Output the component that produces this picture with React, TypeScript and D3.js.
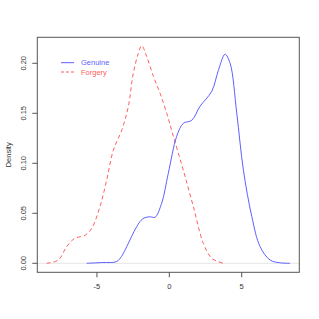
import React from "react";
import * as d3 from "d3";

const genuineX = [-5.71, -4.6, -3.64, -3.3, -2.94, -2.6, -2.25, -1.95, -1.68, -1.3, -0.99, -0.53, -0.07, 0.51, 0.97, 1.55, 2.12, 2.93, 3.39, 3.85, 4.2, 4.66, 5.12, 5.7, 6.27, 6.96, 7.6, 8.34];
const genuineY = [0.0, 0.0008, 0.0017, 0.007, 0.0167, 0.027, 0.0367, 0.043, 0.0457, 0.0465, 0.046, 0.06, 0.09, 0.127, 0.14, 0.143, 0.157, 0.172, 0.193, 0.209, 0.2, 0.15, 0.093, 0.0467, 0.0167, 0.0033, 0.0006, 0.0];

const forgeryX = [-8.47, -7.67, -7.09, -6.52, -5.82, -5.36, -4.79, -4.33, -3.87, -3.29, -2.83, -2.49, -2.14, -1.91, -1.56, -1.1, -0.64, -0.18, 0.28, 0.97, 1.66, 2.35, 2.93, 3.73];
const forgeryY = [0.0, 0.0033, 0.0167, 0.025, 0.028, 0.035, 0.0567, 0.083, 0.113, 0.133, 0.157, 0.19, 0.21, 0.2177, 0.2067, 0.187, 0.17, 0.15, 0.127, 0.093, 0.0567, 0.02, 0.005, 0.0];

const xTicks = [-5, 0, 5];
const yTicks = [0, 0.05, 0.1, 0.15, 0.2];
const seriesNames = ["Genuine", "Forgery"];
const seriesColors = ["#5f5fff", "#ff5f5f"];

export default function App() {
  const W = 319, H = 319;
  const left = 37.3, right = 299.3, top = 37.3, bottom = 272.3;
  const x = d3.scaleLinear().domain([-9.12, 8.98]).range([left, right]);
  const y = d3.scaleLinear().domain([-0.009, 0.226]).range([bottom, top]);
  const line = d3.line<[number, number]>().x(d => x(d[0])).y(d => y(d[1])).curve(d3.curveCatmullRom.alpha(0.5));
  const g = genuineX.map((v, i) => [v, genuineY[i]] as [number, number]);
  const f = forgeryX.map((v, i) => [v, forgeryY[i]] as [number, number]);
  const font = "Liberation Sans, Arial, Helvetica, sans-serif";
  return (
    <svg width={W} height={H} style={{ position: "absolute", left: 0, top: 0 }} fontFamily={font}>
      <rect x={0} y={0} width={W} height={H} fill="#fff" />
      <line x1={x(-9.12)} x2={x(8.98)} y1={y(0)} y2={y(0)} stroke="#e6e6e6" strokeWidth={1} />
      <path d={line(f) || ""} fill="none" stroke={seriesColors[1]} strokeWidth={1} strokeDasharray="4,3" />
      <path d={line(g) || ""} fill="none" stroke={seriesColors[0]} strokeWidth={1} />
      <rect x={left} y={top} width={right - left} height={bottom - top} fill="none" stroke="#555" strokeWidth={1} />
      {xTicks.map(t => (
        <g key={t}>
          <line x1={x(t)} x2={x(t)} y1={bottom} y2={bottom + 5} stroke="#555" />
          <text x={x(t)} y={289} fontSize={7.5} textAnchor="middle" fill="#333">{t}</text>
        </g>
      ))}
      {yTicks.map(t => (
        <g key={t}>
          <line x1={left - 5} x2={left} y1={y(t)} y2={y(t)} stroke="#555" />
          <text transform={`translate(26,${y(t)}) rotate(-90)`} fontSize={7.5} textAnchor="middle" fill="#333">{t.toFixed(2)}</text>
        </g>
      ))}
      <text transform={`translate(10.5,${(top + bottom) / 2}) rotate(-90)`} fontSize={7.5} textAnchor="middle" fill="#333">Density</text>
      {seriesNames.map((n, i) => (
        <g key={n}>
          <line x1={61} x2={74} y1={62.7 + i * 9.3} y2={62.7 + i * 9.3} stroke={seriesColors[i]} strokeDasharray={i === 1 ? "3,2" : undefined} />
          <text x={81} y={62.7 + i * 9.3 + 2.7} fontSize={7.5} fill={seriesColors[i]}>{n}</text>
        </g>
      ))}
    </svg>
  );
}
